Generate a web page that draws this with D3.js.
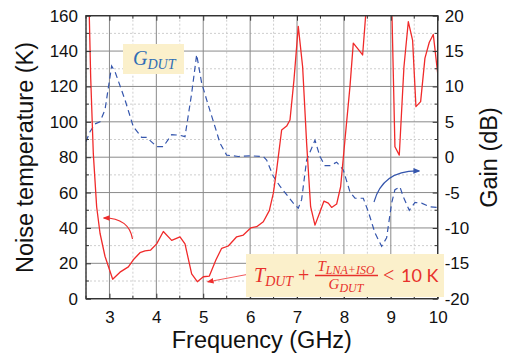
<!DOCTYPE html>
<html><head><meta charset="utf-8">
<script src="https://cdn.jsdelivr.net/npm/d3@7"></script>
<style>
html,body{margin:0;padding:0;background:#fff;}
svg{display:block;}
</style></head>
<body>
<svg id="chart" width="505" height="358"></svg>
<script>
// ---- data ----
const noiseFreq = [2.56,2.6,2.656,2.727,2.799,2.905,3.069,3.225,3.403,3.509,3.651,3.758,3.879,4.007,4.149,4.327,4.504,4.611,4.753,4.874,5.002,5.130,5.272,5.393,5.535,5.713,5.855,6.011,6.139,6.281,6.409,6.494,6.565,6.672,6.779,6.850,6.935,7.027,7.120,7.205,7.290,7.383,7.475,7.575,7.667,7.738,7.845,7.930,8.022,8.129,8.200,8.307,8.399,8.55,9.0,9.088,9.181,9.280,9.373,9.465,9.536,9.636,9.728,9.821,9.906,10.0];
const noiseTemp = [172,125,82,52,37,24,11,15,18,22,26,27,27.5,31,38,33,35,31,14,9.6,12.4,12.8,22,28.5,29.8,35,36,40,40.7,43.5,49.8,59.5,72.7,95.4,97.6,101,123.7,154,131,87.8,52,41.6,48,55.2,54,51.6,53.5,63.3,89.7,119.9,144.5,141,137.8,190,190,85.9,81.2,131,156.6,146,108.6,111.4,136,145,149.4,127.4];
const gainFreq = [2.5,2.585,2.692,2.799,2.905,3.047,3.118,3.332,3.509,3.687,3.794,4.007,4.149,4.327,4.504,4.611,4.753,4.860,4.966,5.073,5.251,5.357,5.499,5.748,5.997,6.281,6.352,6.494,6.636,6.779,6.921,7.027,7.098,7.205,7.383,7.489,7.596,7.703,7.845,7.987,8.129,8.236,8.413,8.520,8.662,8.804,8.911,9.017,9.088,9.195,9.266,9.394,9.515,9.657,9.835,9.977];
const gainDb = [2.2,3.6,4.7,5.0,6.7,12.9,12.1,8.1,4.3,2.8,2.8,1.5,1.5,3.2,3.1,2.9,9.0,14.5,10.5,8.1,4.3,2.0,0.3,0.1,0.2,0.1,-0.4,-2.7,-4.1,-5.3,-6.5,-7.2,-6.0,-0.4,2.4,0.1,-1.2,-1.2,-0.7,-1.8,-4.9,-5.8,-5.8,-7.7,-10.7,-12.6,-11.4,-6.5,-4.6,-4.2,-5.6,-7.5,-6.4,-6.5,-7.0,-7.1];
const xTicks = [3,4,5,6,7,8,9,10];
const yLeftTicks = [0,20,40,60,80,100,120,140,160];
const yRightTicks = [-20,-15,-10,-5,0,5,10,15,20];

// ---- layout ----
const L = 86, R = 437.7, T = 15.7, B = 298.7;
const svg = d3.select("#chart");
const x = d3.scaleLinear().domain([2.5,10]).range([L,R]);
const yL = d3.scaleLinear().domain([0,160]).range([B,T]);
const yR = d3.scaleLinear().domain([-20,20]).range([B,T]);

const font = "'Liberation Sans', Arial, sans-serif";
const minorX = d3.range(2.5,10.01,0.5).filter(v => Math.abs(v-Math.round(v))>0.01);
const minorY = d3.range(10,160,20);

// grid
const g = svg.append("g");
g.selectAll(".mgx").data(minorX).join("line")
  .attr("x1",d=>x(d)).attr("x2",d=>x(d)).attr("y1",T).attr("y2",B)
  .attr("stroke","#c8c8c8").attr("stroke-width",0.9).attr("stroke-dasharray","2,2");
g.selectAll(".mgy").data(minorY).join("line")
  .attr("y1",d=>yL(d)).attr("y2",d=>yL(d)).attr("x1",L).attr("x2",R)
  .attr("stroke","#c8c8c8").attr("stroke-width",0.9).attr("stroke-dasharray","2,2");
g.selectAll(".gx").data(xTicks).join("line")
  .attr("x1",d=>x(d)).attr("x2",d=>x(d)).attr("y1",T).attr("y2",B)
  .attr("stroke","#8a8a8a").attr("stroke-width",1);
g.selectAll(".gy").data(yLeftTicks).join("line")
  .attr("y1",d=>yL(d)).attr("y2",d=>yL(d)).attr("x1",L).attr("x2",R)
  .attr("stroke","#8a8a8a").attr("stroke-width",1);

// clip
svg.append("clipPath").attr("id","clip").append("rect")
  .attr("x",L).attr("y",T).attr("width",R-L).attr("height",B-T);

// gain line (blue dashed)
const gainLine = d3.line().x((d,i)=>x(gainFreq[i])).y(d=>yR(d));
svg.append("path").datum(gainDb).attr("clip-path","url(#clip)")
  .attr("d",gainLine).attr("fill","none").attr("stroke","#3556ad")
  .attr("stroke-width",1.2).attr("stroke-dasharray","6,4");

// noise line (red)
const noiseLine = d3.line().x((d,i)=>x(noiseFreq[i])).y(d=>yL(d));
svg.append("path").datum(noiseTemp).attr("clip-path","url(#clip)")
  .attr("d",noiseLine).attr("fill","none").attr("stroke","#f02a2a")
  .attr("stroke-width",1.3).attr("stroke-linejoin","round");

// axes with inward ticks
function styleAxis(sel){
  sel.select(".domain").remove();
  sel.selectAll(".tick line").attr("stroke","#333").attr("stroke-width",1);
  sel.selectAll(".tick text").attr("font-family",font).attr("font-size",17).attr("fill","#111");
}
const ax1 = svg.append("g").attr("transform",`translate(0,${B})`)
  .call(d3.axisBottom(x).tickValues(xTicks).tickFormat(d3.format("d")).tickSizeInner(-5).tickPadding(12));
styleAxis(ax1);
const ax2 = svg.append("g").attr("transform",`translate(${L},0)`)
  .call(d3.axisLeft(yL).tickValues(yLeftTicks).tickSizeInner(-5).tickPadding(8));
styleAxis(ax2);
const ax3 = svg.append("g").attr("transform",`translate(${R},0)`)
  .call(d3.axisRight(yR).tickValues(yRightTicks).tickFormat(d=>d<0?"-"+Math.abs(d):d).tickSizeInner(-5).tickPadding(7));
styleAxis(ax3);
const ax4 = svg.append("g").attr("transform",`translate(0,${T})`)
  .call(d3.axisTop(x).tickValues(xTicks).tickSizeInner(-5).tickFormat(""));
styleAxis(ax4);
// minor ticks
const mt = svg.append("g").attr("stroke","#333").attr("stroke-width",1);
minorX.forEach(v=>{
  mt.append("line").attr("x1",x(v)).attr("x2",x(v)).attr("y1",B).attr("y2",B-3);
  mt.append("line").attr("x1",x(v)).attr("x2",x(v)).attr("y1",T).attr("y2",T+3);
});
minorY.forEach(v=>{
  mt.append("line").attr("y1",yL(v)).attr("y2",yL(v)).attr("x1",L).attr("x2",L+3);
  mt.append("line").attr("y1",yL(v)).attr("y2",yL(v)).attr("x1",R).attr("x2",R-3);
});
// frame
svg.append("rect").attr("x",L).attr("y",T).attr("width",R-L).attr("height",B-T)
  .attr("fill","none").attr("stroke","#333").attr("stroke-width",1.4);

// axis titles
svg.append("text").attr("x",(L+R)/2+0).attr("y",348).attr("text-anchor","middle")
  .attr("font-family",font).attr("font-size",23.5).attr("fill","#111").text("Frequency (GHz)");
svg.append("text").attr("transform","translate(33,157.5) rotate(-90)").attr("text-anchor","middle")
  .attr("font-family",font).attr("font-size",23.5).attr("fill","#111").text("Noise temperature (K)");
svg.append("text").attr("transform","translate(497,157.5) rotate(-90)").attr("text-anchor","middle")
  .attr("font-family",font).attr("font-size",23.5).attr("fill","#111").text("Gain (dB)");

// markers
const defs = svg.append("defs");
function marker(id,color){
  defs.append("marker").attr("id",id).attr("viewBox","0 0 10 10").attr("refX",8).attr("refY",5)
    .attr("markerWidth",7).attr("markerHeight",7).attr("orient","auto").attr("markerUnits","userSpaceOnUse")
    .append("path").attr("d","M0,1 L10,5 L0,9 Z").attr("fill",color);
}
marker("mr","#ee2d2d"); marker("mb","#3556ad");

// arrows
svg.append("path").attr("d","M132.5,239 Q129,218 104,218").attr("fill","none")
  .attr("stroke","#ee2d2d").attr("stroke-width",1.2).attr("marker-end","url(#mr)");
svg.append("path").attr("d","M374,202 Q383,170 419,171").attr("fill","none")
  .attr("stroke","#3556ad").attr("stroke-width",1.2).attr("marker-end","url(#mb)");
svg.append("line").attr("x1",247).attr("y1",274.5).attr("x2",208).attr("y2",281.8)
  .attr("stroke","#ee2d2d").attr("stroke-width",0.8).attr("marker-end","url(#mr)");

// annotation boxes
const boxFill = "#fbf0cb";
svg.append("rect").attr("x",123).attr("y",44).attr("width",61).attr("height",30).attr("fill",boxFill);
const mathFont = "'Liberation Serif','DejaVu Serif',serif";
const gt = svg.append("text").attr("x",133).attr("y",65).attr("font-family",mathFont)
  .attr("font-style","italic").attr("fill","#2f6db5").attr("font-size",20);
gt.append("tspan").text("G");
gt.append("tspan").attr("dy",4).attr("font-size",14).text("DUT");

svg.append("rect").attr("x",246).attr("y",254).attr("width",198).attr("height",43).attr("fill",boxFill);
const red = "#e8302c";
const t1 = svg.append("text").attr("x",254).attr("y",282).attr("font-family",mathFont)
  .attr("font-style","italic").attr("fill",red).attr("font-size",20);
t1.append("tspan").text("T");
t1.append("tspan").attr("dy",4).attr("font-size",14).text("DUT");
svg.append("text").attr("x",298).attr("y",282).attr("font-family",mathFont)
  .attr("fill",red).attr("font-size",20).text("+");
const num = svg.append("text").attr("x",346).attr("y",271).attr("text-anchor","middle").attr("font-family",mathFont)
  .attr("font-style","italic").attr("fill",red).attr("font-size",15);
num.append("tspan").text("T");
num.append("tspan").attr("dy",3).attr("font-size",12).text("LNA+ISO");
svg.append("line").attr("x1",315).attr("x2",378).attr("y1",275.5).attr("y2",275.5)
  .attr("stroke",red).attr("stroke-width",1.3);
const den = svg.append("text").attr("x",346).attr("y",289).attr("text-anchor","middle").attr("font-family",mathFont)
  .attr("font-style","italic").attr("fill",red).attr("font-size",15);
den.append("tspan").text("G");
den.append("tspan").attr("dy",3).attr("font-size",12).text("DUT");
svg.append("text").attr("x",383).attr("y",282).attr("font-family",mathFont)
  .attr("fill",red).attr("font-size",20).text("<");
svg.append("text").attr("x",401).attr("y",282).attr("font-family","Lato, 'Open Sans', sans-serif")
  .attr("fill",red).attr("font-size",18).text("10 K");
</script>
</body></html>
